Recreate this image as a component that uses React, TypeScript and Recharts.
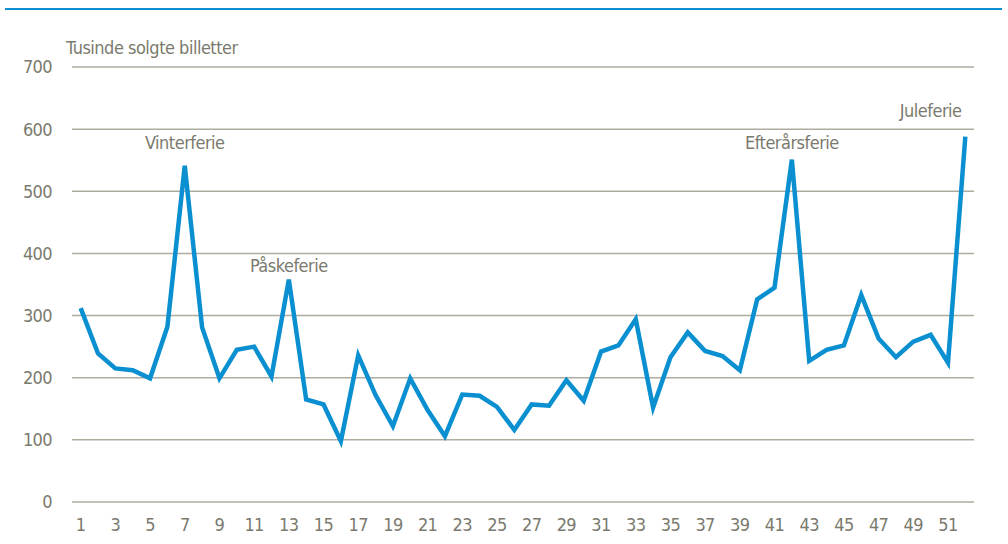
import { CartesianGrid, LineChart, Line, ReferenceDot, XAxis, YAxis } from 'recharts';

const weeks = Array.from({ length: 52 }, (_, i) => i + 1);

const tickets = [
  312, 239, 215, 212, 199, 282, 541, 281, 199, 245,
  250, 202, 358, 165, 157, 98, 236, 172, 122, 199,
  148, 106, 173, 171, 153, 116, 157, 155, 196, 163,
  242, 252, 294, 152, 233, 273, 243, 235, 212, 326,
  345, 551, 227, 245, 252, 333, 263, 233, 258, 269,
  224, 588,
];

const yTicks = [0, 100, 200, 300, 400, 500, 600, 700];

const holidays = [
  { week: 7, level: 578, name: 'Vinterferie' },
  { week: 13, level: 381, name: 'Påskeferie' },
  { week: 42, level: 578, name: 'Efterårsferie' },
  { week: 50, level: 630, name: 'Juleferie' },
];

const FONT = '"Liberation Sans Narrow", "Arial Narrow", "DejaVu Sans Condensed", "Liberation Sans", sans-serif';
const TEXT = '#7a7a6e';
const tickStyle = { fill: TEXT, fontSize: 18, fontFamily: FONT, letterSpacing: -0.6 };

const rows = weeks.map((w, i) => ({ week: w, value: tickets[i] }));

const HolidayLabel = ({ viewBox, value }: any) => (
  <text
    x={viewBox.cx ?? viewBox.x}
    y={viewBox.cy ?? viewBox.y}
    textAnchor="middle"
    dominantBaseline="central"
    fill={TEXT}
    fontSize={18}
    fontFamily={FONT}
    letterSpacing={-0.5}
  >
    {value}
  </text>
);

export default function App() {
  return (
    <div style={{ position: 'absolute', left: 0, top: 0, width: 1008, height: 544, background: '#fff' }}>
      <div style={{ position: 'absolute', left: 5, top: 8, width: 997, height: 2, background: '#0a8fd0' }} />
      <div
        style={{
          position: 'absolute',
          left: 66,
          top: 37,
          fontFamily: FONT,
          fontSize: 18,
          letterSpacing: -0.5,
          color: TEXT,
          whiteSpace: 'nowrap',
        }}
      >
        Tusinde solgte billetter
      </div>
      <LineChart width={1008} height={544} data={rows} margin={{ top: 67, right: 34, bottom: 12, left: 0 }}>
        <CartesianGrid vertical={false} stroke="#aeac9f" strokeWidth={1.5} />
        <XAxis
          dataKey="week"
          scale="band"
          interval={1}
          axisLine={false}
          tickLine={false}
          tickSize={0}
          tickMargin={16}
          height={30}
          tick={tickStyle}
        />
        <YAxis
          domain={[0, 700]}
          ticks={yTicks}
          width={72}
          axisLine={false}
          tickLine={false}
          tickSize={0}
          tickMargin={20}
          tick={tickStyle}
        />
        <Line
          type="linear"
          dataKey="value"
          stroke="#0a8fd0"
          strokeWidth={4.5}
          dot={false}
          activeDot={false}
          isAnimationActive={false}
        />
        {holidays.map((h) => (
          <ReferenceDot
            key={h.name}
            x={h.week}
            y={h.level}
            r={0}
            fill="none"
            stroke="none"
            label={<HolidayLabel value={h.name} />}
          />
        ))}
      </LineChart>
    </div>
  );
}
